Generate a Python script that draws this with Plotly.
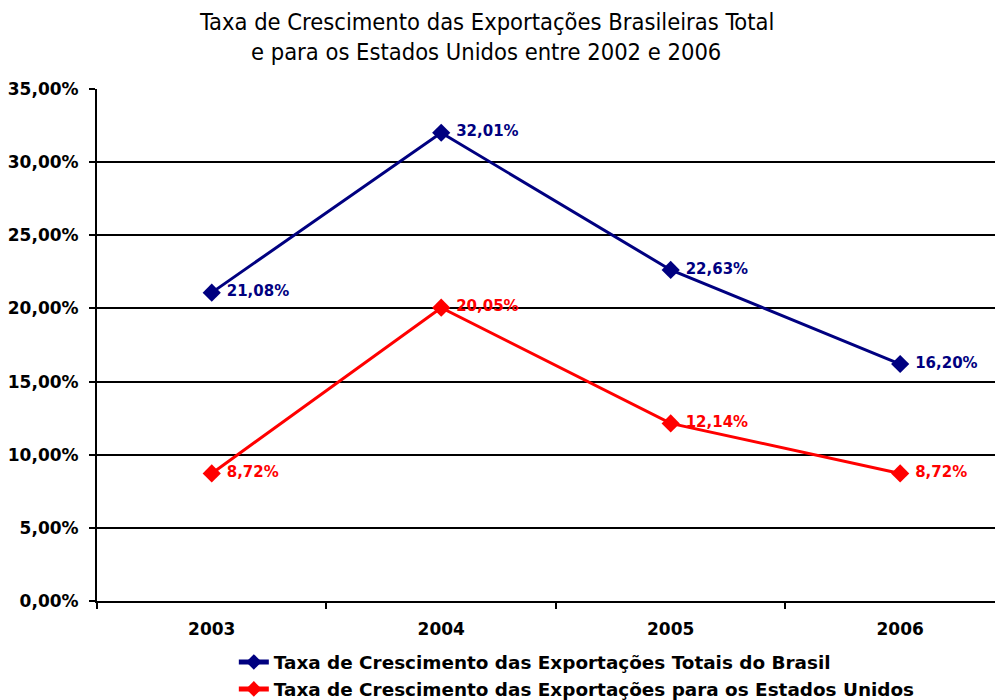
import plotly.graph_objects as go

years = ["2003", "2004", "2005", "2006"]
total_brasil = [21.08, 32.01, 22.63, 16.20]
para_eua = [8.72, 20.05, 12.14, 8.72]
y_ticks = [0, 5, 10, 15, 20, 25, 30, 35]
y_tick_labels = ["0,00%", "5,00%", "10,00%", "15,00%", "20,00%", "25,00%", "30,00%", "35,00%"]
series_names = [
    "Taxa de Crescimento das Exportações Totais do Brasil",
    "Taxa de Crescimento das Exportações para os Estados Unidos",
]
title_lines = [
    "Taxa de Crescimento das Exportações Brasileiras Total",
    "e para os Estados Unidos entre 2002 e 2006",
]
colors = ["#000080", "#FF0000"]

def fmt(v):
    return " " + f"{v:.2f}%".replace(".", ",")

bold_font = "DejaVu Sans"

fig = go.Figure()
for name, vals, col in zip(series_names, [total_brasil, para_eua], colors):
    fig.add_trace(go.Scatter(
        x=years, y=vals, name=name, mode="lines+markers+text",
        line=dict(color=col, width=3),
        marker=dict(symbol="diamond", size=14, color=col),
        text=[fmt(v) for v in vals], textposition="middle right",
        textfont=dict(family=bold_font, size=15, color=col, weight="bold"),
        cliponaxis=False,
    ))

# plot area is 914 px wide here; positions expressed as paper fractions
for line, yp in zip(title_lines, [1.13, 1.072]):
    fig.add_annotation(
        text=line, xref="paper", yref="paper", x=0.4257, y=yp,
        xanchor="center", yanchor="middle", showarrow=False,
        font=dict(family="DejaVu Sans Condensed", size=23.5, color="black"),
    )

fig.update_layout(
    width=1003, height=692,
    margin=dict(l=89, r=0, t=81, b=99, autoexpand=False),
    paper_bgcolor="white", plot_bgcolor="white",
    showlegend=True,
    legend=dict(
        orientation="v", x=0.1497, xanchor="left", y=-0.083, yanchor="top",
        font=dict(family=bold_font, size=18.4, color="black", weight="bold"),
        bgcolor="rgba(0,0,0,0)", tracegroupgap=0, itemsizing="constant",
    ),
)
fig.update_xaxes(
    type="category", range=[-0.5, 3.483], tickson="boundaries",
    ticks="outside", ticklen=6, tickcolor="black", tickwidth=2,
    showline=True, linecolor="black", linewidth=2, showgrid=False,
    automargin=False, ticklabelstandoff=12,
    tickfont=dict(family=bold_font, size=17, color="black", weight="bold"),
)
fig.update_yaxes(
    range=[0, 35], tickvals=y_ticks, ticktext=y_tick_labels,
    ticks="outside", ticklen=6, tickcolor="black", tickwidth=2,
    showline=True, linecolor="black", linewidth=2,
    showgrid=True, gridcolor="black", gridwidth=1.5,
    zeroline=False, automargin=False, ticklabelstandoff=7,
    tickfont=dict(family=bold_font, size=17, color="black", weight="bold"),
)

fig.write_html("out.html")
